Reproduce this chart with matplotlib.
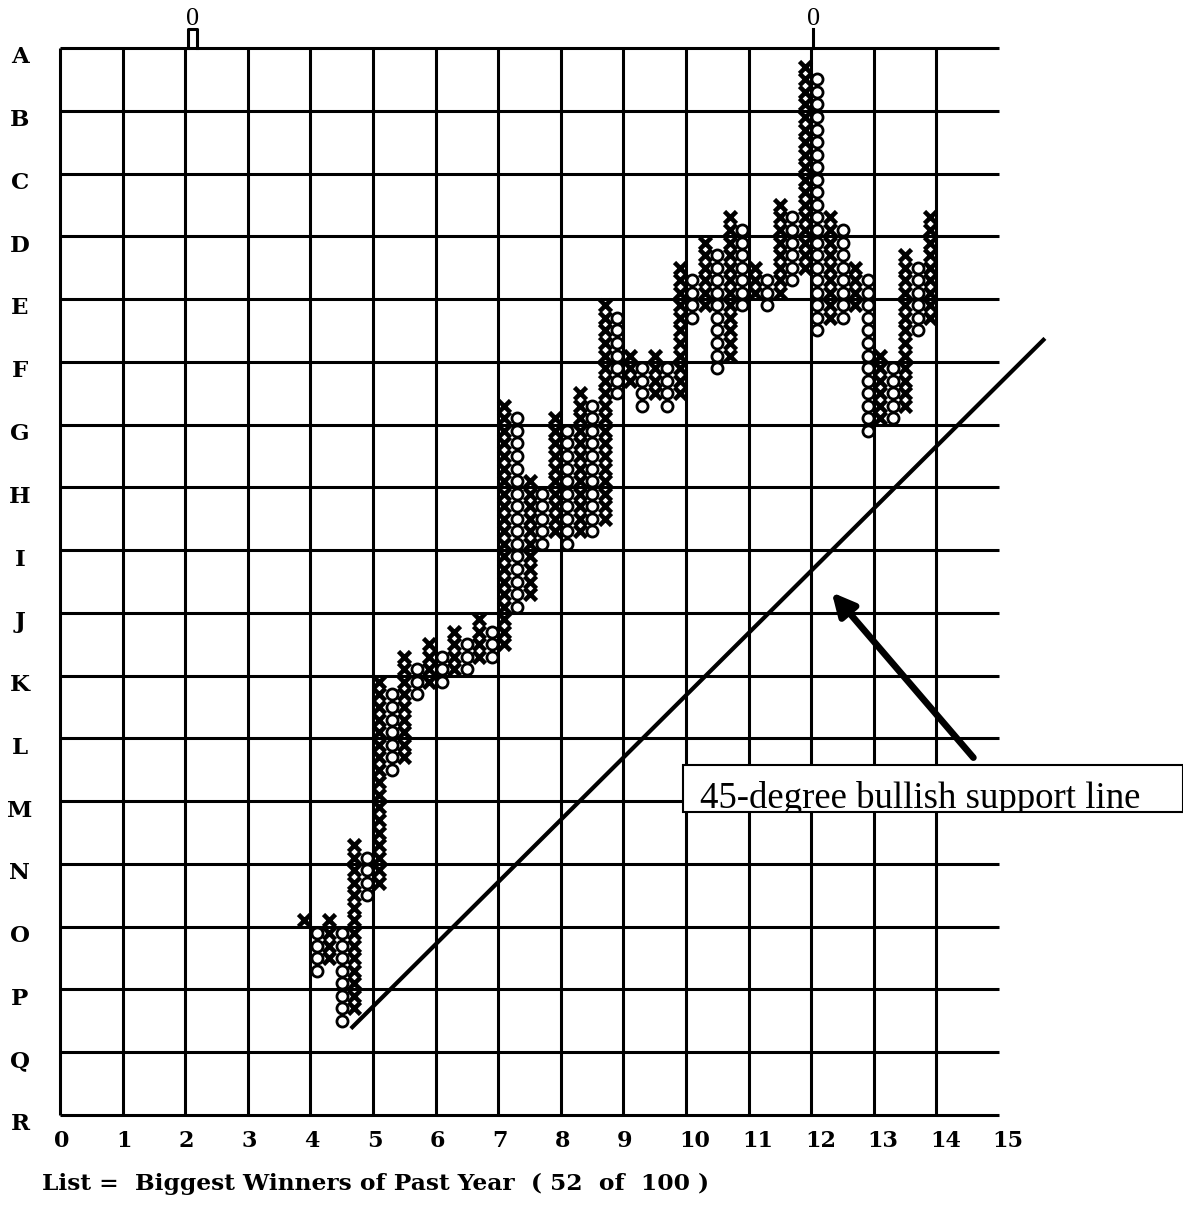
import numpy as np
import matplotlib
matplotlib.use('Agg')
from matplotlib import pyplot as plt
from matplotlib.patches import Rectangle

# rows A..R top to bottom, columns 0..15
row_labels = list('ABCDEFGHIJKLMNOPQR')
col_labels = [str(i) for i in range(16)]

# point & figure columns, 5 columns per grid unit, 5 boxes per grid row
# box 0 = just under row A
first_col = 19
tops = [69, 70, 69, 70, 63, 64, 50, 51, 48, 49, 47, 48, 46, 47, 45, 46, 28, 29,
        34, 35, 29, 30, 27, 28, 20, 21, 24, 25, 24, 25, 17, 18, 15, 16, 13, 14,
        17, 18, 12, 13, 1, 2, 13, 14, 17, 18, 24, 25, 16, 17, 13]
bottoms = [69, 73, 72, 77, 76, 67, 66, 57, 56, 51, 50, 50, 49, 49, 48, 48, 47, 44,
           43, 39, 38, 39, 38, 38, 37, 27, 26, 28, 27, 28, 27, 21, 20, 25, 24, 20,
           19, 20, 19, 18, 17, 22, 21, 21, 20, 30, 29, 29, 28, 22, 21]

# 45 degree support line and arrow (grid units, y counted down from A)
support_x = [4.67, 15.71]
support_y = [15.6, 4.65]
arrow_tail = (14.62, 11.34)
arrow_head = (12.3, 8.64)
top_marks = [2.12, 12.03]

fig = plt.figure(figsize=(11.83, 12.30), dpi=100)
W, H = 1183, 1230
ax = fig.add_axes([60 / W, 1 - 1115 / H, 939 / W, 1067 / H])
ax.set_xlim(0, 15)
ax.set_ylim(17, 0)
ax.axis('off')

serif = dict(family='DejaVu Serif', weight='bold', color='black')

# grid
for r in range(18):
    ax.plot([0, 15], [r, r], color='k', lw=2.2, solid_capstyle='butt', clip_on=False)
for c in range(15):
    ax.plot([c, c], [0, 17], color='k', lw=2.2, solid_capstyle='butt', clip_on=False)

for r, lab in enumerate(row_labels):
    ax.text(-0.64, r + 0.15, lab, ha='center', va='center', fontsize=16.5, **serif)
for c, lab in enumerate(col_labels):
    ax.text(c - 0.1, 17.42, lab, ha='left', va='center', fontsize=16, **serif)

ax.text(-0.29, 18.1, 'List =  Biggest Winners of Past Year  ( 52  of  100 )',
        ha='left', va='center', fontsize=16.8, clip_on=False, **serif)

# X and O columns
for n in range(len(tops)):
    k = first_col + n
    boxes = np.arange(tops[n], bottoms[n] + 1)
    xs = np.full(len(boxes), (k + 0.5) / 5)
    ys = (boxes + 0.5) / 5
    if n % 2 == 0:
        ax.plot(xs, ys, 'x', color='k', ms=9, mew=3.3, clip_on=False)
    else:
        ax.plot(xs, ys, 'o', color='k', mfc='white', ms=8, mew=2.0, clip_on=False)

# marks above the top edge
for xm in top_marks:
    ax.text(xm, -0.46, '0', ha='center', va='center', fontsize=19,
            family='Liberation Serif', color='k')
ax.plot([top_marks[1], top_marks[1]], [-0.3, 0], color='k', lw=2.2, clip_on=False)
ax.plot([top_marks[0] - 0.07, top_marks[0] - 0.07, top_marks[0] + 0.07, top_marks[0] + 0.07],
        [0, -0.3, -0.3, 0], color='k', lw=2.2, clip_on=False)

# support line and arrow
ax.plot(support_x, support_y, color='k', lw=3, clip_on=False)
ax.annotate('', xy=arrow_head, xytext=arrow_tail,
            arrowprops=dict(arrowstyle='-|>', lw=4.8, color='k', mutation_scale=34))

# annotation box (text cut off at the bottom edge as in the source)
box = Rectangle((683 / W, 1 - 812 / H), (W - 683) / W, 47 / H, transform=fig.transFigure,
                fc='white', ec='black', lw=1.5, zorder=5)
fig.patches.append(box)
t = fig.text(700 / W, 1 - 808 / H, '45-degree bullish support line', ha='left',
             va='baseline', fontsize=26.5, family='Liberation Serif', color='k', zorder=6)
t.set_clip_path(box)

fig.savefig('out.png', dpi=100)
